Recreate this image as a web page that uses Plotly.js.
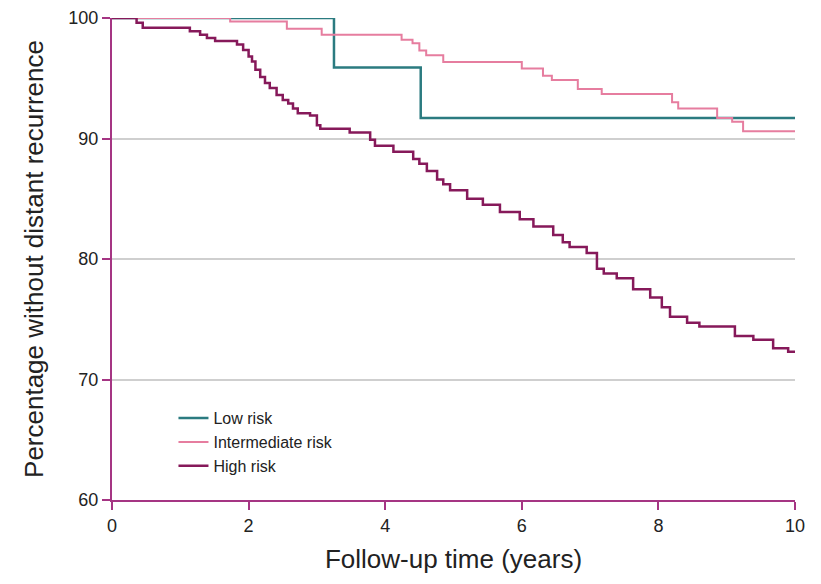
<!DOCTYPE html>
<html>
<head>
<meta charset="utf-8">
<script src="https://cdn.plot.ly/plotly-3.0.1.min.js"></script>
<style>html,body{margin:0;padding:0;background:#fff;}#chart{width:821px;height:584px;}</style>
</head>
<body>
<div id="chart"></div>
<script>
// Series names
const seriesNames = ["Low risk", "Intermediate risk", "High risk"];

// Low risk (time in years, percentage)
const lowTime = [0, 3.25, 4.52, 10];
const lowPct  = [100, 95.9, 91.7, 91.7];

// Intermediate risk
const intTime = [0, 1.73, 2.56, 3.07, 4.24, 4.4, 4.5, 4.6, 4.85, 6.0, 6.31, 6.44, 6.82, 7.17, 8.2, 8.29, 8.86, 9.08, 9.24, 10];
const intPct  = [100, 99.7, 99.1, 98.6, 98.2, 97.9, 97.3, 96.9, 96.35, 95.8, 95.2, 94.85, 94.1, 93.7, 93.0, 92.5, 91.7, 91.4, 90.6, 90.6];

// High risk
const highTime = [0, 0.36, 0.45, 1.14, 1.29, 1.39, 1.51, 1.83, 1.92, 2.0, 2.05, 2.1, 2.17, 2.24, 2.31, 2.41, 2.5, 2.58, 2.65, 2.72, 2.9, 3.0, 3.05, 3.48, 3.78, 3.85, 4.12, 4.41, 4.5, 4.61, 4.76, 4.85, 4.95, 5.2, 5.43, 5.68, 5.97, 6.17, 6.46, 6.6, 6.7, 6.95, 7.1, 7.2, 7.39, 7.63, 7.88, 8.05, 8.17, 8.42, 8.6, 9.12, 9.39, 9.68, 9.9, 10];
const highPct  = [100, 99.6, 99.2, 98.9, 98.6, 98.35, 98.1, 97.8, 97.35, 96.8, 96.4, 95.7, 95.1, 94.6, 94.2, 93.6, 93.2, 92.9, 92.5, 92.1, 91.9, 91.1, 90.8, 90.5, 89.9, 89.4, 88.9, 88.3, 87.9, 87.3, 86.6, 86.2, 85.7, 85.0, 84.5, 83.9, 83.3, 82.7, 82.0, 81.4, 81.0, 80.5, 79.2, 78.8, 78.4, 77.5, 76.8, 76.0, 75.2, 74.7, 74.4, 73.6, 73.3, 72.6, 72.3, 72.3];

// Axis ticks
const xTicks = [0, 2, 4, 6, 8, 10];
const yTicks = [60, 70, 80, 90, 100];

const font = "Liberation Sans, Arial, sans-serif";
const axisColor = "#a53583";

const traces = [
  {x: lowTime, y: lowPct, name: seriesNames[0], mode: "lines", line: {shape: "hv", color: "#2b7b80", width: 2.5}},
  {x: intTime, y: intPct, name: seriesNames[1], mode: "lines", line: {shape: "hv", color: "#e67d9f", width: 2}},
  {x: highTime, y: highPct, name: seriesNames[2], mode: "lines", line: {shape: "hv", color: "#86195a", width: 2.5}}
];

const layout = {
  width: 821, height: 584,
  margin: {l: 112, r: 26, t: 18, b: 84},
  paper_bgcolor: "#fff", plot_bgcolor: "#fff",
  font: {family: font, color: "#222", size: 17},
  showlegend: true,
  legend: {x: 0.09, y: 0.205, xanchor: "left", yanchor: "top", bgcolor: "rgba(0,0,0,0)",
           font: {size: 16, family: font, color: "#222"}, tracegroupgap: 0},
  xaxis: {
    range: [0, 10], tickvals: xTicks, ticktext: xTicks.map(String),
    showgrid: false, zeroline: false, showline: true, linecolor: axisColor, linewidth: 2,
    ticks: "outside", ticklen: 8, tickwidth: 2, tickcolor: axisColor,
    tickfont: {size: 18, color: "#222"},
    title: {text: "Follow-up time (years)", font: {size: 26, color: "#222"}, standoff: 15}
  },
  yaxis: {
    range: [60, 100], tickvals: yTicks, ticktext: yTicks.map(String),
    showgrid: true, gridcolor: "#cfcfcf", gridwidth: 2, zeroline: false,
    showline: true, linecolor: axisColor, linewidth: 2,
    ticks: "outside", ticklen: 8, tickwidth: 2, tickcolor: axisColor,
    tickfont: {size: 18, color: "#222"},
    title: {text: "Percentage without distant recurrence", font: {size: 26, color: "#222"}, standoff: 17}
  }
};

Plotly.newPlot("chart", traces, layout, {displayModeBar: false, staticPlot: true});
</script>
</body>
</html>
